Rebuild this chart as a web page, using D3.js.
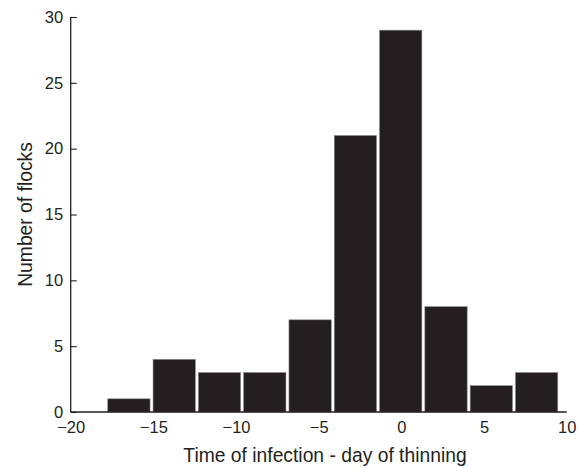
<!DOCTYPE html>
<html>
<head>
<meta charset="utf-8">
<script src="https://cdn.jsdelivr.net/npm/d3@7/dist/d3.min.js"></script>
<style>
  html, body { margin: 0; padding: 0; background: #fff; }
  svg { display: block; }
</style>
</head>
<body>
<svg id="chart" width="581" height="468"></svg>
<script>
// Histogram bins (time of infection − day of thinning) and flock counts
const binEdges = [-17.85, -15.11, -12.37, -9.63, -6.89, -4.15, -1.41, 1.33, 4.07, 6.81, 9.55];
const counts   = [1, 4, 3, 3, 7, 21, 29, 8, 2, 3];
const xTicks   = [-20, -15, -10, -5, 0, 5, 10];
const yTicks   = [0, 5, 10, 15, 20, 25, 30];
const xTitle   = "Time of infection - day of thinning";
const yTitle   = "Number of flocks";

const svg = d3.select("#chart");
const margin = { left: 70.7, right: 14.3, top: 17, bottom: 56 };
const W = 581, H = 468;

const x = d3.scaleLinear().domain([-20, 10]).range([margin.left, W - margin.right]);
const y = d3.scaleLinear().domain([0, 30]).range([H - margin.bottom, margin.top]);

const font = "'Liberation Sans', Arial, Helvetica, sans-serif";
const ink = "#231f20";

const bins = counts.map((c, i) => ({ x0: binEdges[i], x1: binEdges[i + 1], c }));

svg.append("g").selectAll("rect").data(bins).join("rect")
  .attr("x", d => x(d.x0) + 1.5)
  .attr("width", d => x(d.x1) - x(d.x0) - 3)
  .attr("y", d => y(d.c))
  .attr("height", d => y(0) - y(d.c))
  .attr("fill", ink)
  .attr("stroke", "#8a8a8a")
  .attr("stroke-width", 0.6);

// Y axis
const yAxis = d3.axisLeft(y).tickValues(yTicks).tickSize(-6).tickPadding(8).tickFormat(d3.format("d"));
const gy = svg.append("g").attr("transform", `translate(${margin.left},0)`).call(yAxis);
gy.select(".domain").attr("stroke", ink).attr("stroke-width", 1.3)
  .attr("d", `M0,${y(30)}V${y(0)}`);
gy.selectAll(".tick line").attr("stroke", ink).attr("stroke-width", 1.1);
gy.selectAll(".tick text").attr("font-family", font).attr("font-size", 16.5).attr("fill", ink)
  .attr("x", -7.5);

// X axis
const xAxis = d3.axisBottom(x).tickValues(xTicks).tickSize(0).tickPadding(9)
  .tickFormat(d => d < 0 ? "\u2212" + Math.abs(d) : String(d));
const gx = svg.append("g").attr("transform", `translate(0,${y(0)})`).call(xAxis);
gx.select(".domain").attr("stroke", ink).attr("stroke-width", 1.3)
  .attr("d", `M${x(-20)},0H${x(10)}`);
gx.selectAll(".tick text").attr("font-family", font).attr("font-size", 16.5).attr("fill", ink)
  .attr("y", 0).attr("dy", null).attr("transform", "translate(0,21.2)");

// Titles
svg.append("text")
  .attr("x", 325)
  .attr("y", 461.7)
  .attr("text-anchor", "middle")
  .attr("font-family", font).attr("font-size", 19.3).attr("fill", ink)
  .text(xTitle);

svg.append("text")
  .attr("transform", `translate(31.5,${(y(0) + y(30)) / 2}) rotate(-90)`)
  .attr("text-anchor", "middle")
  .attr("font-family", font).attr("font-size", 19.3).attr("fill", ink)
  .text(yTitle);
</script>
</body>
</html>
